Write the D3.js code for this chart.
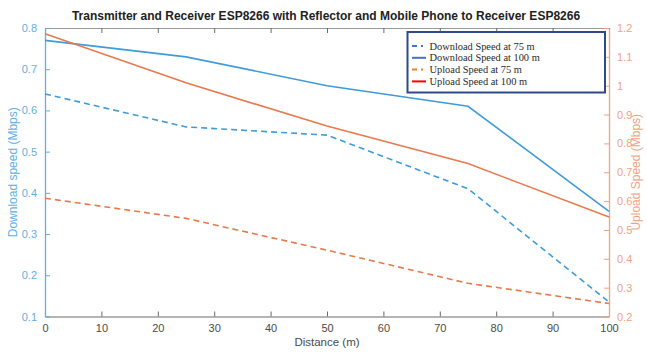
<!DOCTYPE html>
<html>
<head>
<meta charset="utf-8">
<script src="https://cdn.jsdelivr.net/npm/d3@7"></script>
<style>
  html, body { margin: 0; padding: 0; background: #fff; }
  svg { display: block; }
</style>
</head>
<body>
<svg id="chart" width="647" height="352"></svg>
<script>
// Distances (m) at which speeds were measured
const distances = [0, 25, 50, 75, 100];

// Download speed (Mbps), left axis
const download75 = [0.64, 0.56, 0.54, 0.41, 0.135];
const download100 = [0.77, 0.73, 0.66, 0.61, 0.355];

// Upload speed (Mbps), right axis
const upload75 = [0.61, 0.54, 0.43, 0.315, 0.245];
const upload100 = [1.18, 1.01, 0.86, 0.73, 0.545];

// Axis ticks
const xTicks = [0, 10, 20, 30, 40, 50, 60, 70, 80, 90, 100];
const leftTicks = [0.1, 0.2, 0.3, 0.4, 0.5, 0.6, 0.7, 0.8];
const rightTicks = [0.2, 0.3, 0.4, 0.5, 0.6, 0.7, 0.8, 0.9, 1, 1.1, 1.2];

const legendLabels = [
  "Download Speed at 75 m",
  "Download Speed at 100 m",
  "Upload Speed at 75 m",
  "Upload Speed at 100 m"
];

const titleText = "Transmitter and Receiver ESP8266 with Reflector and Mobile Phone to Receiver ESP8266";

const blue = "#3f9bd9";
const orange = "#e8794d";
const blueAxis = "#63aee2";
const orangeAxis = "#f2a283";
const grayAxis = "#6b6b6b";

const svg = d3.select("#chart");
const m = { left: 45, right: 609, top: 28, bottom: 316.5 };

const x = d3.scaleLinear().domain([0, 100]).range([m.left, m.right]);
const yL = d3.scaleLinear().domain([0.1, 0.8]).range([m.bottom, m.top]);
const yR = d3.scaleLinear().domain([0.2, 1.2]).range([m.bottom, m.top]);

const font = "Arial, 'Liberation Sans', Helvetica, sans-serif";

// Bottom x axis
const xAxisB = svg.append("g")
  .attr("transform", `translate(0,${m.bottom})`)
  .call(d3.axisBottom(x).tickValues(xTicks).tickSizeInner(-5).tickSizeOuter(0).tickPadding(8));
xAxisB.select(".domain").attr("stroke", grayAxis);
xAxisB.selectAll(".tick line").attr("stroke", grayAxis);
xAxisB.selectAll("text").attr("fill", "#4a4a4a").attr("font-size", 11).attr("font-family", font);

// Top x axis (box)
const xAxisT = svg.append("g")
  .attr("transform", `translate(0,${m.top})`)
  .call(d3.axisTop(x).tickValues(xTicks).tickSizeInner(-5).tickSizeOuter(0).tickFormat(""));
xAxisT.select(".domain").attr("stroke", "#9a9a9a");
xAxisT.selectAll(".tick line").attr("stroke", grayAxis);

// Left y axis
const yAxisL = svg.append("g")
  .attr("transform", `translate(${m.left},0)`)
  .call(d3.axisLeft(yL).tickValues(leftTicks).tickSizeInner(-5).tickSizeOuter(0).tickPadding(8)
    .tickFormat(d3.format("~g")));
yAxisL.select(".domain").attr("stroke", blueAxis).attr("stroke-width", 1.3);
yAxisL.selectAll(".tick line").attr("stroke", blueAxis);
yAxisL.selectAll("text").attr("fill", blueAxis).attr("font-size", 11).attr("font-family", font);

// Right y axis
const yAxisR = svg.append("g")
  .attr("transform", `translate(${m.right},0)`)
  .call(d3.axisRight(yR).tickValues(rightTicks).tickSizeInner(-5).tickSizeOuter(0).tickPadding(8)
    .tickFormat(d3.format("~g")));
yAxisR.select(".domain").attr("stroke", orangeAxis).attr("stroke-width", 1.3);
yAxisR.selectAll(".tick line").attr("stroke", orangeAxis);
yAxisR.selectAll("text").attr("fill", orangeAxis).attr("font-size", 11).attr("font-family", font);

// Axis titles
svg.append("text")
  .attr("x", (m.left + m.right) / 2).attr("y", 346)
  .attr("text-anchor", "middle").attr("font-size", 11.5).attr("font-family", font)
  .attr("fill", "#4a4a4a").text("Distance (m)");

svg.append("text")
  .attr("transform", `translate(17,${(m.top + m.bottom) / 2}) rotate(-90)`)
  .attr("text-anchor", "middle").attr("font-size", 12).attr("font-family", font)
  .attr("fill", blueAxis).text("Download speed (Mbps)");

svg.append("text")
  .attr("transform", `translate(640,${(m.top + m.bottom) / 2}) rotate(-90)`)
  .attr("text-anchor", "middle").attr("font-size", 12).attr("font-family", font)
  .attr("fill", orangeAxis).text("Upload Speed (Mbps)");

// Title
svg.append("text")
  .attr("x", 326).attr("y", 20)
  .attr("text-anchor", "middle").attr("font-size", 12).attr("font-weight", "bold")
  .attr("font-family", font).attr("fill", "#222").text(titleText);

// Series lines
const series = [
  { values: download75, scale: yL, color: blue, dash: "6,4" },
  { values: download100, scale: yL, color: blue, dash: null },
  { values: upload75, scale: yR, color: orange, dash: "6,4" },
  { values: upload100, scale: yR, color: orange, dash: null }
];

series.forEach(s => {
  const line = d3.line().x((d, i) => x(distances[i])).y(d => s.scale(d));
  svg.append("path")
    .datum(s.values)
    .attr("d", line)
    .attr("fill", "none")
    .attr("stroke", s.color)
    .attr("stroke-width", 1.6)
    .attr("stroke-dasharray", s.dash);
});

// Legend
const legendColors = ["#4472c4", "#4472c4", "#ed7d31", "#ff0000"];
const legendDash = ["5,4,2,10", null, "5,4,2,10", null];
const lg = svg.append("g");
lg.append("rect")
  .attr("x", 407.5).attr("y", 32).attr("width", 197.5).attr("height", 60.5)
  .attr("fill", "#fff").attr("stroke", "#2f4b87").attr("stroke-width", 2);
legendLabels.forEach((label, i) => {
  const yy = 46 + i * 11.8;
  lg.append("line")
    .attr("x1", 412).attr("x2", 426).attr("y1", yy).attr("y2", yy)
    .attr("stroke", legendColors[i]).attr("stroke-width", 2)
    .attr("stroke-dasharray", legendDash[i]);
  lg.append("text")
    .attr("x", 429.5).attr("y", yy + 3.6)
    .attr("font-family", "'Liberation Serif', 'Times New Roman', serif")
    .attr("font-size", 10.4).attr("fill", "#2a2a2a")
    .text(label);
});
</script>
</body>
</html>
